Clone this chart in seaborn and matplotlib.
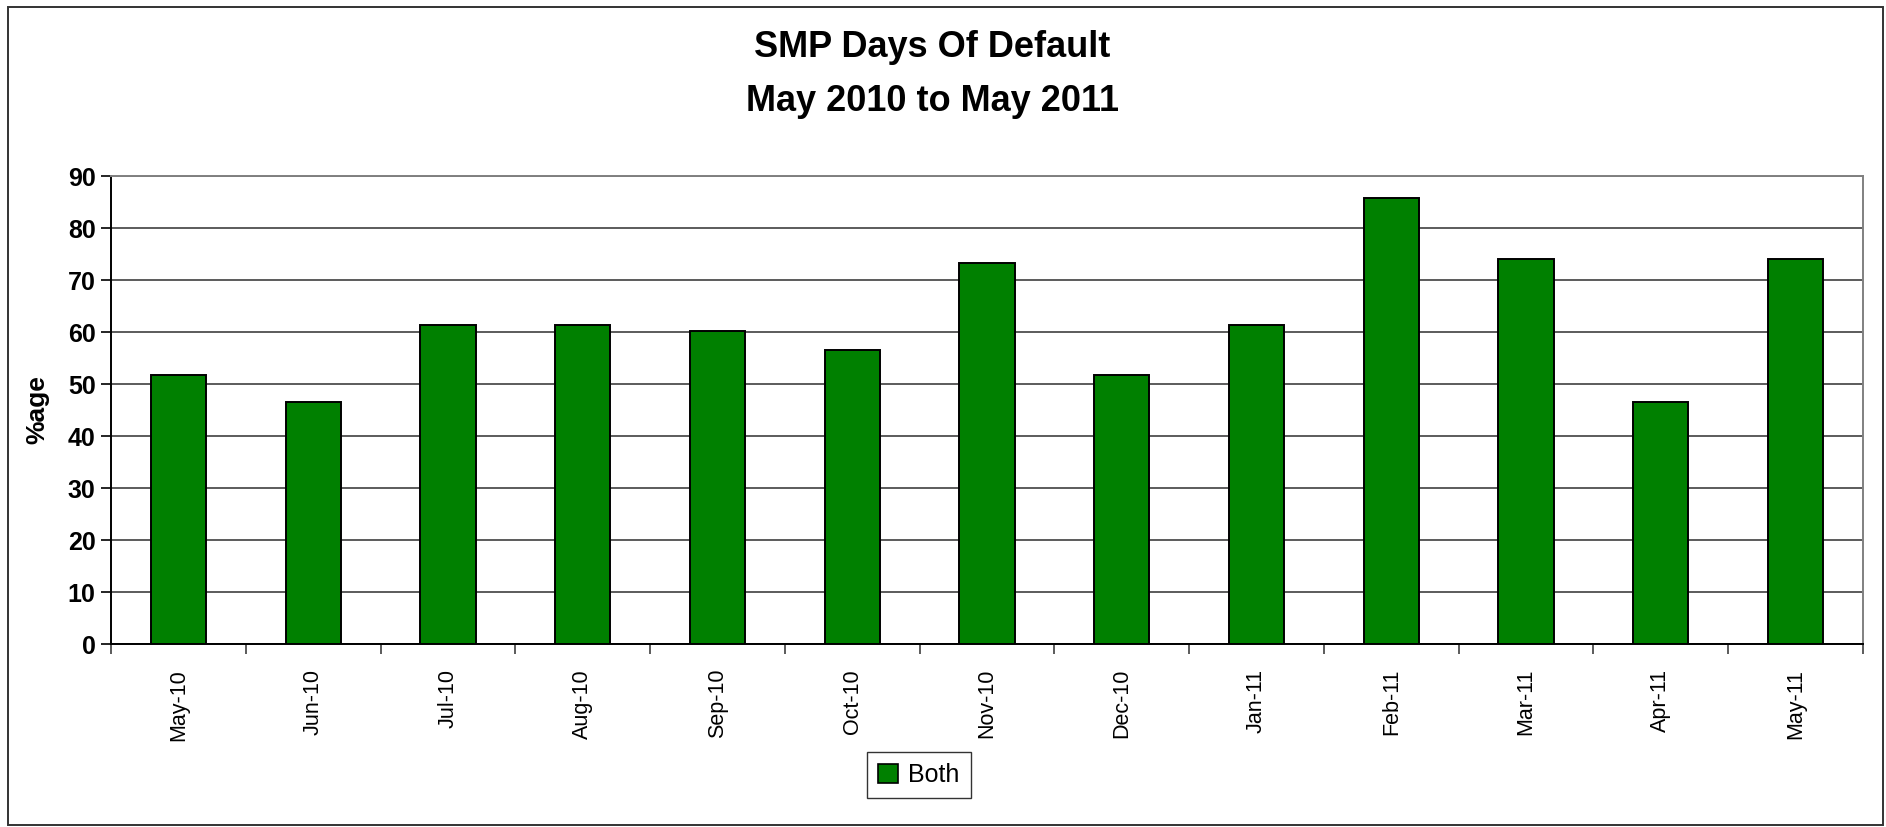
import matplotlib
matplotlib.use("Agg")
import matplotlib.pyplot as plt
import matplotlib.ticker as mticker
from matplotlib.patches import Patch, Rectangle
import pandas as pd
import seaborn as sns

# values
months = ["May-10", "Jun-10", "Jul-10", "Aug-10", "Sep-10", "Oct-10", "Nov-10",
          "Dec-10", "Jan-11", "Feb-11", "Mar-11", "Apr-11", "May-11"]
pct_both = [51.8, 46.6, 61.4, 61.4, 60.2, 56.6, 73.3, 51.8, 61.4, 85.7, 74.1, 46.6, 74.1]
y_ticks = [0, 10, 20, 30, 40, 50, 60, 70, 80, 90]

df = pd.DataFrame({"Month": months, "Both": pct_both})

sns.set_style("white")
plt.rcParams["font.family"] = ["Liberation Sans", "DejaVu Sans"]
plt.rcParams["text.color"] = "black"
plt.rcParams["axes.labelcolor"] = "black"
plt.rcParams["xtick.color"] = "black"
plt.rcParams["ytick.color"] = "black"

W, H = 1886, 827
fig = plt.figure(figsize=(W / 100, H / 100), dpi=100)
ax = fig.add_axes([111 / W, 1 - 644 / H, (1863 - 111) / W, (644 - 176) / H])

sns.barplot(data=df, x="Month", y="Both", color="#008000", saturation=1,
            edgecolor="black", linewidth=1.4, width=0.41, ax=ax, zorder=3)

ax.set_xlim(-0.5, len(months) - 0.5)
ax.set_ylim(0, 90)
ax.set_yticks(y_ticks)
ax.yaxis.grid(True, color="#404040", linewidth=1.2, zorder=0)
ax.set_axisbelow(True)

# spines like the excel plot area
for side in ["left", "bottom"]:
    ax.spines[side].set_color("black")
    ax.spines[side].set_linewidth(1.4)
for side in ["top", "right"]:
    ax.spines[side].set_color("#808080")
    ax.spines[side].set_linewidth(1.4)

# ticks
ax.tick_params(axis="y", direction="out", length=7, width=1.2, left=True,
               labelsize=18, pad=4, colors="black")
for lbl in ax.get_yticklabels():
    lbl.set_fontweight("bold")
ax.tick_params(axis="x", which="major", length=0, labelsize=15.5, pad=18,
               labelrotation=90, colors="black")
ax.xaxis.set_minor_locator(mticker.FixedLocator([i - 0.5 for i in range(len(months) + 1)]))
ax.tick_params(axis="x", which="minor", direction="out", length=7, width=1.2,
               bottom=True, color="#404040")

ax.set_xlabel("")
ax.set_ylabel("%age", fontsize=19, fontweight="bold", color="black")
ax.yaxis.set_label_coords(-0.035, 0.5)

# title, two lines
fig.text(932 / W, 1 - 57 / H, "SMP Days Of Default", ha="center", va="baseline",
         fontsize=26, fontweight="bold", color="black")
fig.text(932 / W, 1 - 111 / H, "May 2010 to May 2011", ha="center", va="baseline",
         fontsize=26, fontweight="bold", color="black")

# legend
handle = Patch(facecolor="#008000", edgecolor="black", linewidth=1.2)
leg = fig.legend([handle], ["Both"], loc="center",
                 bbox_to_anchor=(919 / W, 1 - 775 / H), fontsize=18,
                 frameon=True, fancybox=False, handlelength=0.8,
                 handleheight=0.8, handletextpad=0.4, borderpad=0.45)
leg.get_frame().set_edgecolor("black")
leg.get_frame().set_linewidth(1.0)

# outer chart border
fig.patches.append(Rectangle((8 / W, 1 - 825 / H), (1883 - 8) / W, (825 - 7) / H,
                             transform=fig.transFigure, fill=False,
                             edgecolor="#333333", linewidth=1.4))

fig.savefig("out.png", dpi=100)
